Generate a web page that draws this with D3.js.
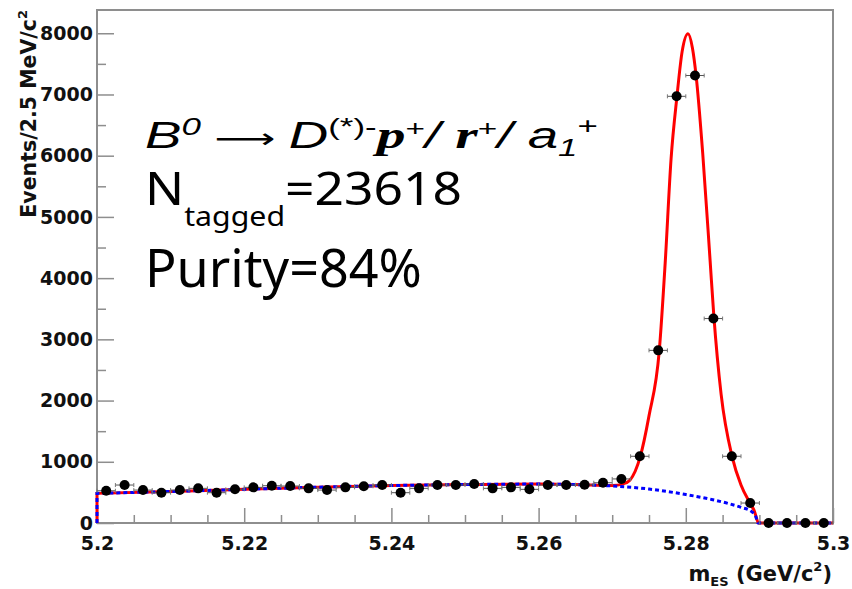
<!DOCTYPE html>
<html><head><meta charset="utf-8">
<script src="https://cdn.jsdelivr.net/npm/d3@7/dist/d3.min.js"></script>
<style>body{margin:0;background:#fff}</style>
</head><body>
<svg id="chart" width="852" height="589"></svg>
<script>
// ---- data ----
const massBins = [5.20125,5.20375,5.20625,5.20875,5.21125,5.21375,5.21625,5.21875,5.22125,5.22375,
  5.22625,5.22875,5.23125,5.23375,5.23625,5.23875,5.24125,5.24375,5.24625,5.24875,
  5.25125,5.25375,5.25625,5.25875,5.26125,5.26375,5.26625,5.26875,5.27125,5.27375,
  5.27625,5.27875,5.28125,5.28375,5.28625,5.28875,5.29125,5.29375,5.29625,5.29875];
const eventCounts = [527,620,538,495,538,566,495,550,582,609,
  604,566,538,582,600,620,495,566,620,620,
  636,566,582,550,620,620,625,658,720,1090,
  2820,6970,7310,3340,1090,326,0,0,0,0];
const binHalfWidth = 0.00125;

const fitTotalMass  = [5.2,5.2,5.21,5.22,5.23,5.24,5.25,5.26,5.265,5.27,5.2715,5.2724,5.2738,5.275,5.2764,5.2772,5.278,5.2788,5.2795,5.2803,5.2809,5.2814,5.2823,5.2833,5.2838,5.2848,5.2863,5.2875,5.2887,5.2893,5.2899,5.3];
const fitTotalValue = [0,484,515,550,585,612,628,636,630,612,640,700,1080,1750,2820,4250,5950,6970,7700,7993,7760,7308,6036,4290,3400,2100,1080,620,330,200,0,0];
const fitBkgMass  = [5.2,5.2,5.21,5.22,5.23,5.24,5.25,5.26,5.265,5.27,5.275,5.28,5.2835,5.2857,5.2875,5.2889,5.2895,5.2898,5.3];
const fitBkgValue = [0,484,515,550,585,612,628,636,628,605,555,465,385,321,255,190,110,0,0];

const xTickValues = [5.2,5.22,5.24,5.26,5.28,5.3];
const xTickLabels = ["5.2","5.22","5.24","5.26","5.28","5.3"];
const yTickValues = [0,1000,2000,3000,4000,5000,6000,7000,8000];
const yTickLabels = ["0","1000","2000","3000","4000","5000","6000","7000","8000"];
const yMinorValues = [500,1500,2500,3500,4500,5500,6500,7500];

// ---- layout ----
const svg = d3.select("#chart");
svg.append("rect").attr("width",852).attr("height",589).attr("fill","#fff");
const L = 97, R = 833, T = 10, B = 523;
const x = d3.scaleLinear().domain([5.2,5.3]).range([L,R]);
const y = d3.scaleLinear().domain([0,8380]).range([B,T]);
const gray = "#8e8e8e";
const axisFont = "'DejaVu Sans', sans-serif";

// frame
svg.append("rect").attr("x",L).attr("y",T).attr("width",R-L).attr("height",B-T)
  .attr("fill","none").attr("stroke",gray).attr("stroke-width",2);

// y axis
const yAx = svg.append("g").attr("transform",`translate(${L},0)`)
  .call(d3.axisLeft(y).tickValues(yTickValues).tickSize(-17).tickPadding(4)
    .tickFormat((d,i)=>yTickLabels[i]));
const yMin = svg.append("g").attr("transform",`translate(${L},0)`)
  .call(d3.axisLeft(y).tickValues(yMinorValues).tickSize(-9).tickFormat(""));
// x axis
const xAx = svg.append("g").attr("transform",`translate(0,${B})`)
  .call(d3.axisBottom(x).tickValues(xTickValues).tickSize(-15).tickPadding(14)
    .tickFormat((d,i)=>xTickLabels[i]));
const xMinorVals = x.ticks(20).filter(v => !xTickValues.some(t => Math.abs(t-v)<1e-9));
const xMin = svg.append("g").attr("transform",`translate(0,${B})`)
  .call(d3.axisBottom(x).tickValues(xMinorVals).tickSize(-8).tickFormat(""));
[yAx,yMin,xAx,xMin].forEach(g=>{
  g.select(".domain").remove();
  g.selectAll(".tick line").attr("stroke",gray).attr("stroke-width",1.5);
  g.selectAll("text").attr("font-family",axisFont).attr("font-weight","bold")
    .attr("font-size","19px").attr("fill","#111");
});

// axis titles
const yt = svg.append("text").attr("transform","translate(36,10) rotate(-90)")
  .attr("text-anchor","end").attr("font-family",axisFont).attr("font-weight","bold")
  .attr("font-size","20.5px").attr("fill","#111");
yt.append("tspan").text("Events/2.5 MeV/c");
yt.append("tspan").attr("font-size","13px").attr("dy","-9").text("2");

const xt = svg.append("text").attr("x",832).attr("y",581).attr("text-anchor","end")
  .attr("font-family",axisFont).attr("font-weight","bold").attr("font-size","21px").attr("fill","#111");
xt.append("tspan").text("m");
xt.append("tspan").attr("font-size","13px").attr("dy","5").text("ES");
xt.append("tspan").attr("dy","-5").text(" (GeV/c");
xt.append("tspan").attr("font-size","13px").attr("dy","-10").text("2");
xt.append("tspan").attr("dy","10").text(")");

// curves
function curvePath(ms, vs){
  const pts = ms.map((m,i)=>[m,vs[i]]);
  const first = pts[0];
  const line = d3.line().x(d=>x(d[0])).y(d=>y(d[1])).curve(d3.curveMonotoneX);
  const rest = line(pts.slice(1));
  return `M${x(first[0])},${y(first[1])}L` + rest.slice(1);
}
svg.append("path").attr("d",curvePath(fitTotalMass,fitTotalValue))
  .attr("fill","none").attr("stroke","#ff0000").attr("stroke-width",3);
svg.append("path").attr("d",curvePath(fitBkgMass,fitBkgValue))
  .attr("fill","none").attr("stroke","#0000ff").attr("stroke-width",3)
  .attr("stroke-dasharray","4,3");

// data points
const pts = svg.append("g");
massBins.forEach((m,i)=>{
  const cx = x(m), cy = y(eventCounts[i]);
  pts.append("line").attr("x1",x(m-binHalfWidth)).attr("x2",x(m+binHalfWidth))
    .attr("y1",cy).attr("y2",cy).attr("stroke","#555").attr("stroke-width",1);
  [m-binHalfWidth, m+binHalfWidth].forEach(e=>{
    pts.append("line").attr("x1",x(e)).attr("x2",x(e)).attr("y1",cy-2).attr("y2",cy+2)
      .attr("stroke","#777").attr("stroke-width",1);
  });
  pts.append("circle").attr("cx",cx).attr("cy",cy).attr("r",5).attr("fill","#000");
});

// annotation
function fitLine(g, x0, baseline, width){
  const bb = g.node().getBBox();
  const s = width / bb.width;
  g.attr("transform",`translate(${x0 - bb.x*s},${baseline}) scale(${s},1)`);
}
const sans = "'Liberation Sans', Arial, sans-serif";
const serif = "'Liberation Serif', 'Times New Roman', serif";
const g1 = svg.append("g");
const t1 = g1.append("text").attr("font-family",sans).attr("font-style","italic")
  .attr("font-size","36px").attr("fill","#000");
t1.append("tspan").text("B");
t1.append("tspan").attr("font-size","23px").attr("dy","-13").text("0");
t1.append("tspan").attr("font-style","normal").attr("font-family","'DejaVu Sans', sans-serif")
  .attr("font-size","28px").attr("dy","13").text(" \u27F6 ");
t1.append("tspan").text("D");
t1.append("tspan").attr("font-size","23px").attr("font-style","normal").attr("dy","-13").text("(*)-");
t1.append("tspan").attr("font-family",serif).attr("font-weight","bold").attr("font-size","38px").attr("dy","13").text("p");
t1.append("tspan").attr("font-size","22px").attr("font-style","normal").attr("dy","-12").text("+");
t1.append("tspan").attr("dy","12").text("/ ");
t1.append("tspan").attr("font-family",serif).attr("font-weight","bold").attr("font-size","38px").text("r");
t1.append("tspan").attr("font-size","22px").attr("font-style","normal").attr("dy","-12").text("+");
t1.append("tspan").attr("dy","12").text("/ a");
t1.append("tspan").attr("font-size","23px").attr("dy","8").text("1");
t1.append("tspan").attr("font-size","23px").attr("font-style","normal").attr("dy","-22").text("+");
fitLine(g1,145,148,453);

const noto = "'Noto Sans', sans-serif";
const g2 = svg.append("g");
const t2 = g2.append("text").attr("font-family",noto).attr("font-size","46px").attr("fill","#000");
t2.append("tspan").text("N");
t2.append("tspan").attr("font-size","27px").attr("dy","21").text("tagged");
t2.append("tspan").attr("dy","-21").text("=23618");
fitLine(g2,145,205,317);

const g3 = svg.append("g");
g3.append("text").attr("font-family",noto).attr("font-size","52px").attr("fill","#000").text("Purity=84%");
fitLine(g3,145,287,277);
</script>
</body></html>
